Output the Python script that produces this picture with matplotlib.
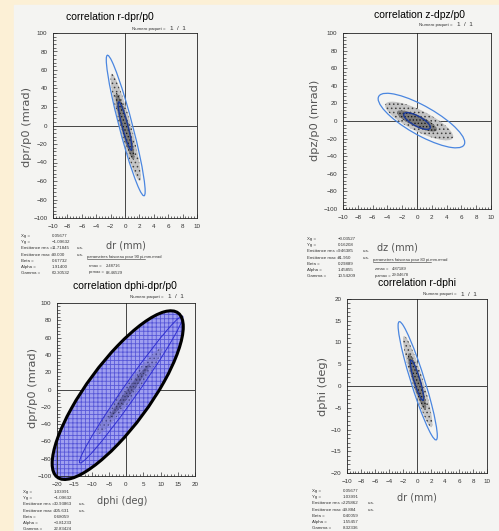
import numpy as np
import matplotlib
matplotlib.use("Agg")
import matplotlib.pyplot as plt
from matplotlib.patches import Ellipse, Rectangle
from matplotlib.transforms import Affine2D
from matplotlib.ticker import MultipleLocator, AutoMinorLocator

# ---- donnees ----
titles = ["correlation r-dpr/p0", "correlation z-dpz/p0",
          "correlation dphi-dpr/p0", "correlation r-dphi"]
xlabels = ["dr (mm)", "dz (mm)", "dphi (deg)", "dr (mm)"]
ylabels = ["dpr/p0 (mrad)", "dpz/p0 (mrad)", "dpr/p0 (mrad)", "dphi (deg)"]
xlims = [(-10, 10), (-10, 10), (-20, 20), (-10, 10)]
ylims = [(-100, 100), (-100, 100), (-100, 100), (-20, 20)]
xsteps = [2, 2, 5, 2]
ysteps = [20, 20, 20, 5]

# ellipses : centre x, centre y, demi-extension x, demi-extension y, correlation
outer_ell = [(0.1, 0.0, 2.7, 76, -0.935),
             (0.6, 0.5, 5.85, 31, -0.80),
             (-2.4, -6.5, 19.0, 97.5, 0.81),
             (0.1, 1.2, 2.8, 13.6, -0.93)]
inner_ell = [(0.0, -0.5, 0.95, 26, -0.90),
             (0.0, 0.0, 1.8, 9.5, -0.75),
             (1.5, 0.0, 15.0, 85, 0.985),
             (0.0, 1.3, 0.95, 4.6, -0.88)]
cloud_ell = [(0.1, -2.0, 2.1, 58, -0.92),
             (0.3, 0.0, 4.6, 22, -0.80),
             (1.0, -2.0, 9.5, 50, 0.97),
             (0.1, 1.0, 2.1, 10.5, -0.92)]
core_ell = [(0.0, -1.0, 1.3, 36, -0.90),
            (0.0, 0.0, 2.7, 12, -0.80),
            (1.0, -2.0, 6.0, 32, 0.985),
            (0.0, 1.0, 1.3, 6.5, -0.90)]

stat_names = ["Xg =", "Yg =", "Emittance rms =", "Emittance max =",
              "Beta =", "Alpha =", "Gamma ="]
stat_values = [["0.05677", "\u22121.09632", "11.71845", "90.000", "0.67732", "1.91400", "60.30532"],
               ["\u22120.03527", "0.16208", "9.46385", "81.950", "0.29889", "1.45855", "10.54209"],
               ["1.03991", "\u22121.09632", "30.93863", "305.631", "0.68059", "\u22123.81233", "22.83424"],
               ["0.05677", "1.03991", "2.25862", "19.884", "0.40059", "1.55457", "8.32336"]]
faisceau = ["parametres faisceau pour 90 pi.mm.mrad",
            "parametres faisceau pour 80 pi.mm.mrad"]
max_names = [["rmax =", "prmax ="], ["zmax =", "pzmax ="]]
max_values = [["2.48716", "88.46529"], ["4.87189", "29.04678"]]

W, H = 499, 531
fig = plt.figure(figsize=(W / 100, H / 100), dpi=100, facecolor="#fcf0d6")
fig.add_artist(Rectangle((14 / W, 0), 1, 1 - 5 / H, transform=fig.transFigure,
                         color="#f4f4f2", zorder=0))

# boites des axes en pixels (gauche, haut, droite, bas)
boxes = [(53, 33, 197, 218), (343, 33, 491, 209),
         (57, 303, 195, 476), (347, 299, 487, 473)]
title_pos = [(110, 17), (420, 15), (125, 286), (417, 283)]
xlab_pos = [(126, 246), (397, 247), (122, 501), (417, 498)]
ylab_pos = [(27, 127), (315, 120), (33, 388), (323, 386)]
stat_pos = [(21, 236), (307, 239), (23, 492), (312, 491)]
num_pos = [(132, 29), (419, 25), (130, 297), (423, 294)]

plt.rcParams["font.family"] = ["Liberation Sans", "DejaVu Sans"]
plt.rcParams["hatch.linewidth"] = 0.6


def ft(x, y, s, **kw):
    fig.text(x / W, 1 - y / H, s, **kw)


def ellipse(ax, p, **kw):
    cx, cy, X, Y, r = p
    m = np.array([[X, 0, cx], [Y * r, Y * np.sqrt(1 - r * r), cy], [0, 0, 1]])
    e = Ellipse((0, 0), 2, 2, transform=Affine2D(m) + ax.transData, **kw)
    ax.add_patch(e)
    return e


for i in range(4):
    l, t, r, b = boxes[i]
    ax = fig.add_axes([l / W, 1 - b / H, (r - l) / W, (b - t) / H])
    ax.set_facecolor("none")
    ax.set_xlim(*xlims[i])
    ax.set_ylim(*ylims[i])
    ax.xaxis.set_major_locator(MultipleLocator(xsteps[i]))
    ax.yaxis.set_major_locator(MultipleLocator(ysteps[i]))
    ax.xaxis.set_minor_locator(AutoMinorLocator(5))
    ax.yaxis.set_minor_locator(AutoMinorLocator(5))
    ax.tick_params(which="both", direction="in", labelsize=4.5, width=0.5,
                   colors="#333333", pad=4)
    ax.tick_params(which="major", length=3)
    ax.tick_params(which="minor", length=1.8)
    for s in ax.spines.values():
        s.set_linewidth(0.6)
        s.set_color("#222222")
    ax.axhline(0, color="#444444", lw=0.7)
    ax.axvline(0, color="#444444", lw=0.7)

    if i == 2:
        ellipse(ax, outer_ell[i], facecolor="#a0a0f0", edgecolor="#5858d8",
                hatch="++++", lw=0, zorder=2, clip_on=False)
        ellipse(ax, outer_ell[i], fill=False, edgecolor="black", lw=2.2,
                zorder=5, clip_on=False)
        ellipse(ax, cloud_ell[i], facecolor="#8080c8", edgecolor="#303070",
                hatch="....", lw=0, alpha=0.6, zorder=3)
        ellipse(ax, core_ell[i], facecolor="#505090", edgecolor="#202040",
                hatch=".....", lw=0, alpha=0.6, zorder=3)
        ellipse(ax, inner_ell[i], fill=False, edgecolor="#3030d0", lw=0.7, zorder=4)
    else:
        ellipse(ax, cloud_ell[i], facecolor="#c4c4c4", edgecolor="#404040",
                hatch="....", lw=0, zorder=2)
        ellipse(ax, core_ell[i], facecolor="#7a7a7a", edgecolor="#1a1a1a",
                hatch=".....", lw=0, zorder=2)
        ellipse(ax, outer_ell[i], fill=False, edgecolor="#4a86e0", lw=0.9, zorder=4)
        ellipse(ax, inner_ell[i], fill=False, edgecolor="#1a3a9a", lw=1.0, zorder=4)

    ft(*title_pos[i], titles[i], ha="center", va="center", fontsize=7.5)
    ft(*xlab_pos[i], xlabels[i], ha="center", va="center", fontsize=7,
       color="#555555", family="DejaVu Sans")
    ft(*ylab_pos[i], ylabels[i], ha="center", va="center", fontsize=8.2,
       color="#555555", family="DejaVu Sans", rotation=90)
    nx, ny = num_pos[i]
    ft(nx, ny, "Numero paquet =", ha="left", va="center", fontsize=3.2, color="#333333")
    ft(nx + 38, ny, "1  /  1", ha="left", va="center", fontsize=4.5, color="#333333")

    sx, sy = stat_pos[i]
    for k in range(len(stat_names)):
        yy = sy + k * 6.2
        ft(sx, yy, stat_names[k], ha="left", va="center", fontsize=3.2, color="#333333")
        ft(sx + 31, yy, stat_values[i][k], ha="left", va="center", fontsize=3.2,
           color="#333333")
        if k in (2, 3):
            ft(sx + 56, yy, "u.s.", ha="left", va="center", fontsize=3.2, color="#333333")
    if i < 2:
        ft(sx + 66, sy + 21, faisceau[i], ha="left", va="center", fontsize=3.0,
           color="#333333")
        fig.add_artist(plt.Line2D([(sx + 66) / W, (sx + 124) / W],
                                  [1 - (sy + 23) / H] * 2, lw=0.4, color="#333333"))
        for k in range(2):
            yy = sy + 30 + k * 6.5
            ft(sx + 68, yy, max_names[i][k], ha="left", va="center", fontsize=3.0,
               color="#333333")
            ft(sx + 85, yy, max_values[i][k], ha="left", va="center", fontsize=3.0,
               color="#333333")

fig.savefig("out.png", dpi=100, facecolor=fig.get_facecolor())
